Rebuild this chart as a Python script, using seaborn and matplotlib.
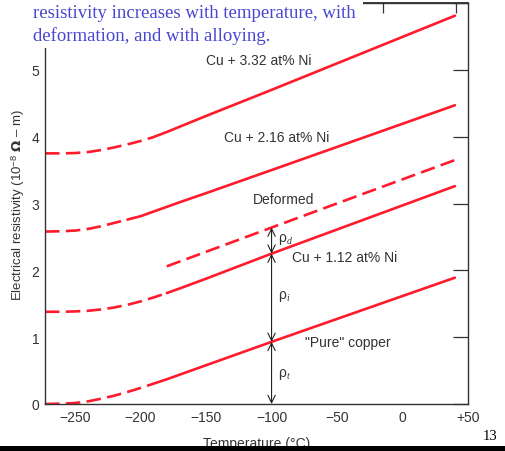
import matplotlib
matplotlib.use("Agg")
import matplotlib.pyplot as plt
from matplotlib.patches import Rectangle
import pandas as pd
import seaborn as sns

# ---------------- data ----------------
temps = [-273, -260, -250, -240, -230, -220, -210, -200, -190, -180, -170, -150, -100, 40]
rho_pure = [0.0, 0.005, 0.015, 0.04, 0.08, 0.125, 0.18, 0.24, 0.305, 0.37, 0.44, 0.58, 0.93, 1.89]
rho_ni112 = [1.38, 1.38, 1.385, 1.395, 1.415, 1.445, 1.485, 1.535, 1.595, 1.66, 1.73, 1.875, 2.25, 3.26]
rho_ni216 = [2.58, 2.585, 2.595, 2.62, 2.66, 2.71, 2.76, 2.81, 2.88, 2.95, 3.02, 3.155, 3.50, 4.47]
rho_ni332 = [3.75, 3.75, 3.755, 3.77, 3.80, 3.84, 3.885, 3.935, 3.995, 4.07, 4.15, 4.31, 4.70, 5.81]
temps_deformed = [-180, -100, 40]
rho_deformed = [2.06, 2.64, 3.65]

curve_names = ["pure", "ni112", "ni216", "ni332"]
curve_values = [rho_pure, rho_ni112, rho_ni216, rho_ni332]
dash_until = [-190, -180, -210, -190]   # curves are dashed at low temperature

x_ticks = [-250, -200, -150, -100, -50, 0, 50]
x_ticklabels = ["\u2212250", "\u2212200", "\u2212150", "\u2212100", "\u221250", "0", "+50"]
y_ticks = [0, 1, 2, 3, 4, 5, 6]
y_ticklabels = ["0", "1", "2", "3", "4", "5", ""]

# ---------------- style ----------------
sns.set_theme(style="white")
plt.rcParams["font.family"] = ["Liberation Sans", "DejaVu Sans"]
plt.rcParams["mathtext.fontset"] = "custom"
plt.rcParams["mathtext.rm"] = "Liberation Sans"
plt.rcParams["mathtext.it"] = "Liberation Serif:italic"

RED = "#ff1a2c"
INK = "#333333"
DASH = (0, (5.5, 2.4))

fig = plt.figure(figsize=(5.06, 4.52), dpi=100)
ax = fig.add_axes([45 / 506, 1 - 405 / 452, (468 - 45) / 506, (405 - 4) / 452])

rows = []
for name, vals, brk in zip(curve_names, curve_values, dash_until):
    for t, r in zip(temps, vals):
        if t <= brk:
            rows.append((name, "dashed", t, r))
        if t >= brk:
            rows.append((name, "solid", t, r))
for t, r in zip(temps_deformed, rho_deformed):
    rows.append(("deformed", "dashed", t, r))
df = pd.DataFrame(rows, columns=["curve", "seg", "T", "rho"])

for (name, seg), sub in df.groupby(["curve", "seg"]):
    sns.lineplot(data=sub, x="T", y="rho", ax=ax, color=RED, lw=1.9,
                 linestyle=DASH if seg == "dashed" else "-",
                 estimator=None, sort=False, legend=False)

ax.set_xlim(-273, 50)
ax.set_ylim(0, 6)
ax.set_xticks(x_ticks)
ax.set_xticklabels(x_ticklabels)
ax.set_yticks(y_ticks)
ax.set_yticklabels(y_ticklabels)
ax.tick_params(direction="in", length=10.5, width=0.9, color=INK,
               labelsize=10, labelcolor=INK, right=True, top=False)
ax.tick_params(axis="x", pad=4)
ax.tick_params(axis="y", pad=4)
for s in ax.spines.values():
    s.set_color(INK)
    s.set_linewidth(1.0)

top = ax.secondary_xaxis("top")
top.set_xticks([-15, 41])
top.set_xticklabels(["", ""])
top.tick_params(direction="in", length=7, width=0.9, color=INK)

ax.set_xlabel("Temperature (\u00b0C)", fontsize=10, color=INK, labelpad=9)
ax.set_ylabel("Electrical resistivity (10$^{-8}$ $\\mathbf{\\Omega}$ \u2013 m)",
              fontsize=9.5, color=INK, labelpad=3)

# curve labels
txt = dict(fontsize=10, color=INK, ha="center", va="center")
ax.text(-110, 5.15, "Cu + 3.32 at% Ni", **txt)
ax.text(-96, 4.0, "Cu + 2.16 at% Ni", **txt)
ax.text(-91, 3.06, "Deformed", **txt)
ax.text(-44, 2.2, "Cu + 1.12 at% Ni", **txt)
ax.text(-42, 0.93, "\"Pure\" copper", **txt)
ax.text(-95, 2.48, "\u03c1$_{d}$", fontsize=10, color=INK, ha="left", va="center")
ax.text(-95, 1.62, "\u03c1$_{i}$", fontsize=10, color=INK, ha="left", va="center")
ax.text(-95, 0.45, "\u03c1$_{t}$", fontsize=10, color=INK, ha="left", va="center")

# resistivity contribution arrows at -100 C
arrow = dict(arrowstyle="<->,head_length=0.45,head_width=0.22", color="#222222",
             lw=0.8, shrinkA=0, shrinkB=0, mutation_scale=12)
ax.annotate("", xy=(-100, 0), xytext=(-100, 0.93), arrowprops=arrow)
ax.annotate("", xy=(-100, 0.93), xytext=(-100, 2.25), arrowprops=arrow)
ax.annotate("", xy=(-100, 2.25), xytext=(-100, 2.64), arrowprops=arrow)

# slide overlay: white title box, slide text, page number, bottom bar
fig.add_artist(Rectangle((0, 1 - 49 / 452), 363 / 506, 49 / 452,
                         transform=fig.transFigure, facecolor="white",
                         edgecolor="none", zorder=5))
fig.text(33 / 506, 1 - 14 / 452, "resistivity increases with temperature, with",
         family=["Liberation Serif", "DejaVu Serif"], fontsize=13.5, color="#4646d2",
         va="center", ha="left", zorder=6)
fig.text(33 / 506, 1 - 36 / 452, "deformation, and with alloying.",
         family=["Liberation Serif", "DejaVu Serif"], fontsize=13.5, color="#4646d2",
         va="center", ha="left", zorder=6)
fig.text(497 / 506, 1 - 437 / 452, "13", family=["Liberation Serif", "DejaVu Serif"],
         fontsize=10.5, color="black", ha="right", va="center", zorder=6)
fig.add_artist(Rectangle((0, 0), 1, 5 / 452, transform=fig.transFigure,
                         facecolor="black", edgecolor="none", zorder=10))

fig.savefig("out.png", dpi=100)
